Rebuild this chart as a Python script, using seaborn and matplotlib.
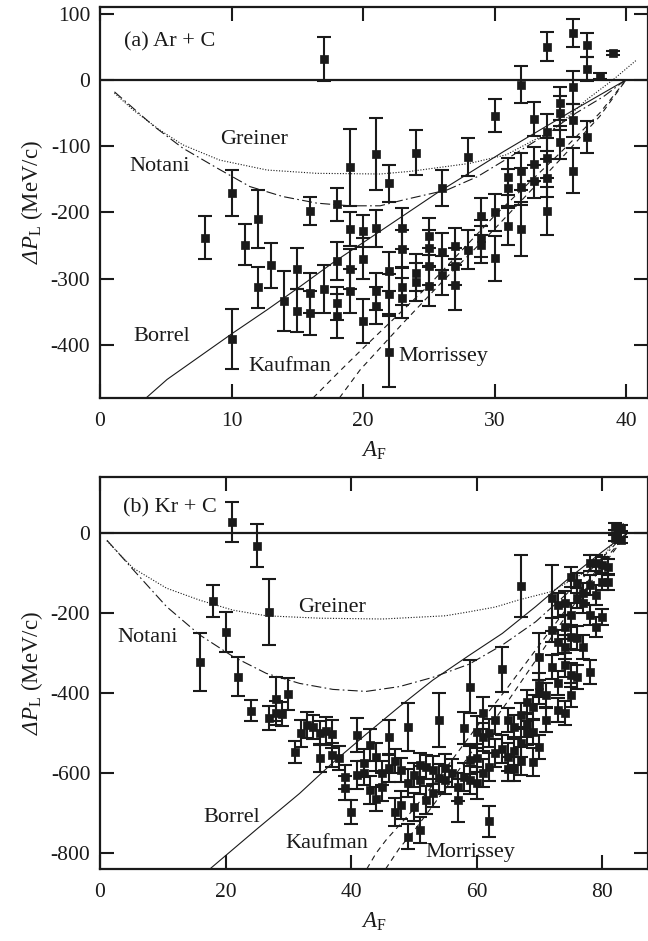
import numpy as np
import pandas as pd
import matplotlib
matplotlib.use("Agg")
import matplotlib.pyplot as plt
import seaborn as sns

# ---------------- data: (a) Ar + C ----------------
ar_A = [8, 10, 10, 11, 12, 12, 13, 14, 15, 15, 16, 16, 16, 17, 17, 18, 18, 18, 18,
        19, 19, 19, 19, 20, 20, 20, 21, 21, 21, 21, 22, 22, 22, 22, 23, 23, 23, 23,
        24, 24, 24, 25, 25, 25, 25, 26, 26, 26, 27, 27, 27, 28, 28, 29, 29, 29,
        30, 30, 30, 31, 31, 31, 32, 32, 32, 32, 33, 33, 33, 34, 34, 34, 34, 34,
        35, 35, 35, 36, 36, 36, 36, 37, 37, 37, 38, 39]
ar_dP = [-238, -171, -391, -249, -210, -313, -280, -334, -285, -348, -198, -322, -352, 31, -316,
         -188, -273, -337, -356, -132, -225, -285, -318, -228, -270, -364, -112, -224, -319, -341,
         -156, -289, -323, -410, -224, -255, -312, -329, -110, -291, -305, -236, -254, -281, -311,
         -163, -259, -295, -251, -281, -309, -116, -256, -206, -239, -249, -54, -200, -269,
         -146, -163, -221, -7, -138, -161, -225, -59, -127, -153, 50, -79, -118, -148, -198,
         -35, -50, -94, 71, -11, -61, -137, 53, 17, -86, 6, 40]
ar_err = [33, 35, 45, 31, 44, 31, 34, 45, 31, 33, 21, 30, 33, 33, 36, 25, 29, 25, 33,
          58, 26, 30, 33, 24, 31, 33, 54, 28, 28, 28, 28, 30, 30, 54, 31, 28, 28, 30,
          34, 28, 28, 28, 28, 28, 30, 27, 28, 30, 28, 28, 38, 29, 30, 28, 28, 28,
          25, 28, 34, 28, 28, 28, 28, 28, 28, 40, 26, 25, 25, 22, 28, 30, 28, 36,
          25, 25, 25, 21, 25, 25, 34, 18, 18, 24, 5, 3]

greiner_ar_A = [1.1, 2.5, 4.5, 6.3, 9.1, 12.7, 16.5, 21.3, 23.6, 28.1, 30.9, 34.5, 37.0, 38.2, 39.0, 40.8]
greiner_ar = [-20, -45, -75, -98, -121, -136, -141, -142, -138, -126, -113, -75, -30, -12, 0, 30]
notani_ar_A = [1.1, 4.1, 6.3, 8.9, 11.4, 13.9, 16.5, 19.0, 21.3, 23.1, 26.4, 28.7, 31.2, 33.7, 36.2, 38.3, 39.9]
notani_ar = [-18, -70, -103, -133, -161, -176, -186, -190, -190, -181, -166, -146, -116, -85, -50, -25, -1]
borrel_ar_A = [3.5, 5.1, 7.6, 10.1, 12.7, 15.2, 17.7, 20.5, 25.6, 30.7, 35.8, 40.0]
borrel_ar = [-480, -452, -417, -382, -347, -312, -276, -239, -171, -108, -48, 0]
kaufman_ar_A = [16.2, 18.2, 20, 25, 30, 35, 38, 40]
kaufman_ar = [-480, -440, -405, -310, -205, -110, -50, 0]
morrissey_ar_A = [18.2, 19.8, 22.9, 26, 30, 35, 38, 40]
morrissey_ar = [-480, -437, -370, -305, -225, -120, -55, 0]

# ---------------- data: (b) Kr + C ----------------
kr_A = [16, 18, 20, 21, 22, 24, 25, 27, 27, 28, 28, 29, 30, 31, 32, 33, 34, 35, 35, 36, 37, 37, 38,
        39, 39, 40, 41, 41, 42, 42, 43, 43, 44, 44, 45, 45, 46, 46, 47, 47, 48, 48, 49, 49, 49,
        50, 50, 51, 51, 51, 52, 52, 53, 53, 54, 54, 55, 55, 56, 57, 57, 58, 58, 59, 59, 59,
        60, 60, 60, 61, 61, 61, 62, 62, 62, 63, 63, 64, 64, 65, 65, 65, 66, 66, 66, 67, 67, 67, 67,
        68, 68, 68, 69, 69, 69, 70, 70, 70, 70, 71, 71, 72, 72, 72, 73, 73, 73, 73,
        74, 74, 74, 74, 74, 75, 75, 75, 75, 75, 76, 76, 76, 76, 77, 77, 77, 78, 78, 78, 78,
        79, 79, 79, 80, 80, 80, 81, 81, 82, 82, 83, 83]
kr_dP = [-322, -170, -247, 28, -359, -444, -32, -197, -463, -415, -451, -453, -403, -547, -501, -480,
         -486, -562, -500, -494, -502, -555, -563, -610, -638, -697, -505, -605, -574, -601, -530, -642,
         -561, -666, -634, -600, -511, -588, -571, -697, -593, -680, -484, -626, -759,
         -605, -684, -580, -618, -743, -584, -668, -593, -651, -468, -613, -588, -618, -601, -634, -668,
         -488, -609, -384, -567, -618, -497, -563, -626, -449, -509, -601, -721, -501, -584, -467, -551,
         -341, -540, -467, -560, -590, -484, -545, -590, -132, -455, -525, -570,
         -501, -422, -480, -434, -572, -497, -309, -380, -397, -534, -467, -405, -163, -243, -334,
         -180, -272, -376, -442, -176, -234, -284, -330, -451, -109, -205, -259, -355, -405,
         -126, -163, -263, -359, -151, -176, -284, -76, -130, -205, -347, -76, -155, -234,
         -80, -122, -209, -122, -84, 16, -13, 12, -17]
kr_err = [73, 41, 50, 50, 49, 27, 54, 82, 30, 54, 30, 30, 40, 27, 33, 32, 30, 35, 30, 35, 35, 30, 30,
          30, 30, 30, 42, 35, 35, 30, 40, 35, 35, 30, 35, 30, 44, 35, 30, 35, 30, 35, 60, 35, 31,
          30, 35, 30, 35, 33, 30, 35, 35, 35, 67, 35, 35, 35, 35, 35, 54, 40, 35, 67, 35, 35,
          40, 35, 40, 40, 35, 35, 38, 35, 35, 35, 35, 56, 35, 30, 35, 30, 30, 35, 30, 77, 30, 35, 35,
          30, 30, 30, 30, 35, 30, 58, 30, 30, 30, 30, 30, 83, 30, 30, 30, 30, 30, 30,
          30, 30, 30, 30, 30, 25, 30, 30, 30, 30, 25, 25, 30, 30, 25, 25, 30, 20, 25, 25, 30,
          20, 25, 25, 20, 20, 20, 20, 20, 8, 8, 8, 8]

greiner_kr_A = [1.1, 5.3, 10.6, 15.9, 21.2, 26.5, 35, 45, 55, 58.8, 63, 66.8, 71.8, 76, 78, 80, 82, 83.5]
greiner_kr = [-20, -88, -138, -168, -193, -207, -213, -215, -207, -197, -185, -167, -147, -110, -90, -62, -20, 28]
notani_kr_A = [1.1, 5.3, 10.6, 15.9, 21.2, 26.5, 31.8, 37.1, 42.4, 47.7, 53.0, 58.8, 64.1, 69.4, 74.7, 80, 83.2]
notani_kr = [-18, -92, -184, -255, -309, -351, -376, -391, -396, -384, -361, -328, -280, -222, -147, -63, -9]
borrel_kr_A = [17.5, 25, 31.8, 37.1, 42.4, 47.7, 53.0, 58.8, 64.1, 69.4, 74.7, 80, 84]
borrel_kr = [-840, -740, -651, -574, -503, -434, -368, -306, -251, -184, -113, -47, 0]
kaufman_kr_A = [42.5, 44, 45.6, 50, 55, 60, 65, 70, 75, 80, 84]
kaufman_kr = [-840, -800, -767, -690, -590, -485, -385, -280, -175, -75, 0]
morrissey_kr_A = [45.5, 47.7, 50, 55, 60, 65, 70, 75, 80, 84]
morrissey_kr = [-840, -788, -745, -640, -530, -420, -305, -190, -85, 0]

# ---------------- style ----------------
sns.set_theme(style="ticks")
plt.rcParams["font.family"] = ["Liberation Serif", "DejaVu Serif"]
plt.rcParams["mathtext.fontset"] = "custom"
plt.rcParams["mathtext.rm"] = "Liberation Serif"
plt.rcParams["mathtext.it"] = "Liberation Serif:italic"
plt.rcParams["mathtext.sf"] = "Liberation Serif:italic"
plt.rcParams["axes.unicode_minus"] = False

INK = "#1a1a1a"
fig = plt.figure(figsize=(6.48, 9.41), dpi=100)
ax1 = fig.add_axes([100 / 648, 1 - 398 / 941, 548 / 648, 391 / 941])
ax2 = fig.add_axes([100 / 648, 1 - 869 / 941, 548 / 648, 392 / 941])

curve_styles = {
    "Greiner": dict(linestyle=(0, (1, 1.5)), lw=0.8),
    "Notani": dict(linestyle=(0, (9, 3, 1.5, 3)), lw=0.8),
    "Borrel": dict(linestyle="-", lw=0.8),
    "Kaufman": dict(linestyle=(0, (5, 4)), lw=0.8),
    "Morrissey": dict(linestyle=(0, (5, 4)), lw=0.8),
}


def draw_panel(ax, A, dP, err, curves, xlim, ylim, xticks, yticks, texts):
    for name, (cx, cy) in curves.items():
        df = pd.DataFrame({"A": cx, "P": cy})
        sns.lineplot(data=df, x="A", y="P", ax=ax, sort=False, estimator=None,
                     color=INK, **curve_styles[name])
    ax.axhline(0, color=INK, lw=1.6, zorder=2)
    ax.errorbar(A, dP, yerr=err, fmt="none", ecolor=INK, elinewidth=1.5,
                capsize=4.8, capthick=1.5, zorder=3)
    dfp = pd.DataFrame({"A": A, "P": dP})
    sns.scatterplot(data=dfp, x="A", y="P", ax=ax, marker="s", s=34, color=INK,
                    edgecolor=INK, linewidth=0.5, zorder=4)
    ax.set_xlim(*xlim)
    ax.set_ylim(*ylim)
    ax.set_xticks(xticks)
    ax.set_yticks(yticks)
    ax.tick_params(direction="in", length=10, width=1.5, top=True, right=True,
                   labelsize=15.5, colors=INK)
    ax.tick_params(axis="x", pad=10)
    ax.tick_params(axis="y", pad=7)
    for s in ax.spines.values():
        s.set_linewidth(1.6)
        s.set_color(INK)
    ax.set_xlabel(r"$A_{\mathrm{F}}$", fontsize=16.5, labelpad=6, color=INK)
    ax.set_ylabel(r"$\mathsf{\Delta}\mathit{P}_{\mathrm{L}}$ (MeV/c)", fontsize=16.5,
                  labelpad=4, color=INK)
    for (tx, ty, t) in texts:
        ax.text(tx, ty, t, fontsize=16, color=INK, ha="left", va="center")


draw_panel(ax1, ar_A, ar_dP, ar_err,
           {"Greiner": (greiner_ar_A, greiner_ar), "Notani": (notani_ar_A, notani_ar),
            "Borrel": (borrel_ar_A, borrel_ar), "Kaufman": (kaufman_ar_A, kaufman_ar),
            "Morrissey": (morrissey_ar_A, morrissey_ar)},
           (0, 41.67), (-480, 110), [0, 10, 20, 30, 40], [100, 0, -100, -200, -300, -400],
           [(1.8, 57, "(a) Ar + C"), (9.1, -90, "Greiner"), (2.2, -131, "Notani"),
            (2.5, -387, "Borrel"), (11.3, -433, "Kaufman"), (22.7, -418, "Morrissey")])

draw_panel(ax2, kr_A, kr_dP, kr_err,
           {"Greiner": (greiner_kr_A, greiner_kr), "Notani": (notani_kr_A, notani_kr),
            "Borrel": (borrel_kr_A, borrel_kr), "Kaufman": (kaufman_kr_A, kaufman_kr),
            "Morrissey": (morrissey_kr_A, morrissey_kr)},
           (0, 87.3), (-840, 140), [0, 20, 40, 60, 80], [0, -200, -400, -600, -800],
           [(3.7, 62, "(b) Kr + C"), (31.5, -185, "Greiner"), (2.7, -260, "Notani"),
            (16.4, -710, "Borrel"), (29.6, -775, "Kaufman"), (51.8, -800, "Morrissey")])

fig.savefig("out.png", dpi=100)
